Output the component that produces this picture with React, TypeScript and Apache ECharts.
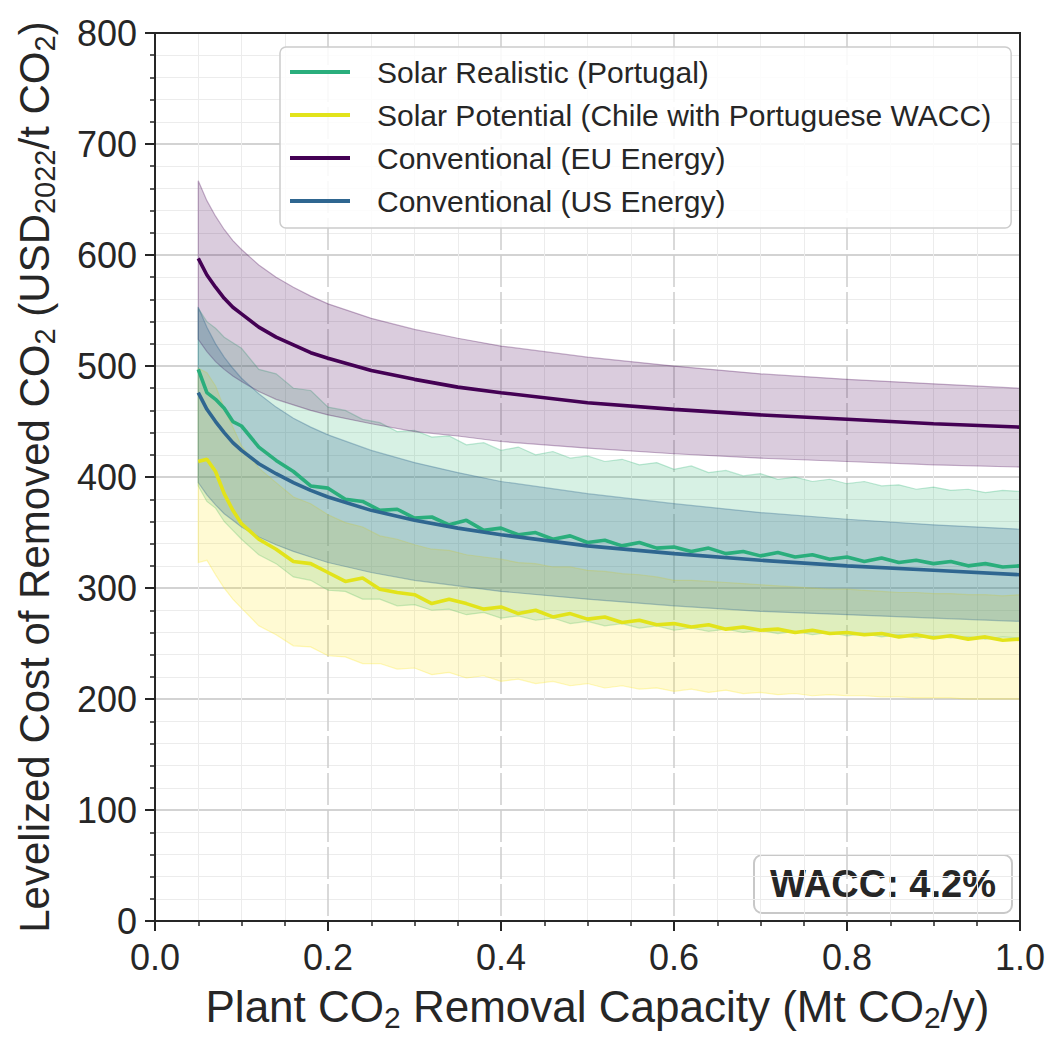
import React, { useEffect, useRef } from "react";
import * as echarts from "echarts";

// ---------- data ----------
const X_CONV = [0.05, 0.06, 0.07, 0.08, 0.09, 0.10, 0.12, 0.14, 0.16, 0.18, 0.20, 0.25, 0.30, 0.35, 0.40, 0.50, 0.60, 0.70, 0.80, 0.90, 1.00];
const EU_MEAN = [597, 582, 571, 561, 553, 547, 535, 526, 519, 512, 507, 496, 488, 481, 476, 467, 461, 456, 452, 448, 445];
const EU_UPPER = [667, 649, 635, 623, 613, 605, 591, 580, 571, 563, 556, 543, 533, 525, 518, 508, 500, 493, 488, 484, 480];
const EU_LOWER = [524, 513, 504, 497, 491, 486, 477, 470, 465, 460, 456, 448, 441, 437, 432, 426, 421, 417, 414, 411, 409];
const US_MEAN = [476, 461, 450, 440, 431, 424, 412, 403, 395, 388, 382, 370, 361, 354, 348, 338, 331, 325, 320, 316, 312];
const US_UPPER = [553, 535, 520, 508, 498, 489, 475, 463, 453, 445, 438, 424, 413, 404, 396, 385, 376, 368, 362, 357, 353];
const US_LOWER = [395, 384, 375, 367, 361, 355, 346, 339, 333, 328, 323, 314, 307, 302, 297, 290, 284, 279, 276, 273, 270];

const X_SOLAR = [0.05, 0.06, 0.07, 0.08, 0.09, 0.10, 0.12, 0.14, 0.16, 0.18, 0.20, 0.22, 0.24, 0.26, 0.28, 0.30, 0.32, 0.34, 0.36, 0.38, 0.40, 0.42, 0.44, 0.46, 0.48, 0.50, 0.52, 0.54, 0.56, 0.58, 0.60, 0.62, 0.64, 0.66, 0.68, 0.70, 0.72, 0.74, 0.76, 0.78, 0.80, 0.82, 0.84, 0.86, 0.88, 0.90, 0.92, 0.94, 0.96, 0.98, 1.00];
const SR_MEAN = [497, 476, 470, 462, 450, 446, 427, 415, 405, 392, 390, 380, 378, 370, 371, 363, 364, 357, 361, 352, 354, 348, 350, 344, 347, 341, 343, 338, 341, 336, 337, 333, 336, 331, 333, 329, 332, 328, 330, 326, 328, 324, 327, 323, 325, 322, 324, 320, 322, 319, 320];
const SR_UPPER = [552, 540, 534, 526, 521, 516, 497, 493, 480, 478, 463, 460, 452, 449, 441, 442, 436, 437, 429, 431, 424, 427, 420, 423, 417, 419, 414, 416, 411, 413, 407, 410, 404, 406, 401, 403, 398, 400, 396, 398, 394, 396, 392, 393, 389, 391, 388, 389, 386, 388, 387];
const SR_LOWER = [392, 378, 372, 360, 352, 344, 330, 322, 310, 307, 298, 297, 290, 290, 284, 285, 280, 281, 276, 278, 273, 275, 271, 273, 268, 270, 266, 268, 264, 266, 262, 264, 261, 263, 260, 262, 259, 261, 258, 260, 257, 259, 256, 258, 255, 257, 255, 256, 254, 256, 255];
const SP_MEAN = [414, 416, 405, 385, 370, 358, 344, 335, 324, 322, 314, 306, 309, 299, 296, 294, 286, 290, 286, 281, 283, 277, 280, 274, 277, 272, 274, 269, 271, 267, 268, 265, 267, 263, 265, 262, 263, 260, 262, 259, 260, 258, 259, 256, 258, 255, 257, 254, 256, 253, 254];
const SP_UPPER = [498, 494, 482, 462, 445, 428, 408, 395, 382, 376, 366, 359, 355, 347, 344, 339, 335, 334, 330, 328, 326, 323, 322, 319, 319, 316, 315, 313, 312, 310, 307, 307, 306, 305, 304, 303, 302, 301, 300, 299, 299, 298, 297, 296, 296, 295, 295, 294, 294, 293, 294];
const SP_LOWER = [323, 325, 312, 300, 290, 282, 266, 258, 248, 247, 239, 238, 232, 232, 227, 228, 222, 224, 219, 221, 216, 218, 214, 216, 212, 214, 210, 212, 209, 210, 207, 209, 206, 208, 205, 206, 204, 205, 203, 204, 203, 203, 202, 202, 201, 201, 201, 200, 200, 200, 200];

const SERIES_NAMES = [
  "Solar Realistic (Portugal)",
  "Solar Potential (Chile with Portuguese WACC)",
  "Conventional (EU Energy)",
  "Conventional (US Energy)",
];
const X_TICKS = { min: 0, max: 1, interval: 0.2 };
const Y_TICKS = { min: 0, max: 800, interval: 100 };
const ANNOTATION = "WACC: 4.2%";

// ---------- styles ----------
const FONT = "'Liberation Sans', Arial, Helvetica, sans-serif";
const TXT = "#262626";
const C_SR = "#2aae7c";
const C_SP = "#e2e31a";
const C_EU = "#440154";
const C_US = "#2f6690";

const rgba = (hex: string, a: number) => {
  const n = parseInt(hex.slice(1), 16);
  return `rgba(${(n >> 16) & 255},${(n >> 8) & 255},${n & 255},${a})`;
};

function band(name: string, xs: number[], lo: number[], hi: number[], color: string, alpha: number) {
  return {
    type: "custom",
    name: name + " range",
    silent: true,
    z: 1,
    data: [0],
    renderItem: (_p: any, api: any) => {
      const pts: number[][] = [];
      for (let i = 0; i < xs.length; i++) pts.push(api.coord([xs[i], hi[i]]));
      for (let i = xs.length - 1; i >= 0; i--) pts.push(api.coord([xs[i], lo[i]]));
      return {
        type: "polygon",
        shape: { points: pts },
        style: { fill: rgba(color, alpha), stroke: rgba(color, alpha + 0.1), lineWidth: 1.2 },
      };
    },
  };
}

function line(name: string, xs: number[], ys: number[], color: string) {
  return {
    type: "line",
    name,
    z: 3,
    showSymbol: false,
    symbol: "none",
    color,
    lineStyle: { color, width: 3.6 },
    data: xs.map((x, i) => [x, ys[i]]),
  };
}

export default function App() {
  const ref = useRef<HTMLDivElement>(null);
  useEffect(() => {
    if (!ref.current) return;
    const chart = echarts.init(ref.current, undefined, { renderer: "svg" });
    const option: any = {
      animation: false,
      backgroundColor: "#ffffff",
      grid: {
        left: 155, right: 32, top: 33, bottom: 115,
        show: true, borderColor: TXT, borderWidth: 2, backgroundColor: "transparent", z: 5,
      },
      xAxis: {
        type: "value",
        min: X_TICKS.min, max: X_TICKS.max, interval: X_TICKS.interval,
        axisLine: { show: true, onZero: false, lineStyle: { color: TXT, width: 2 } },
        axisTick: { show: true, length: 10, lineStyle: { color: TXT, width: 2 } },
        minorTick: { show: true, splitNumber: 4, length: 5, lineStyle: { color: TXT, width: 1.5 } },
        splitLine: {
          show: true, showMinLine: false, showMaxLine: false,
          lineStyle: { color: "#cdcdcd", width: 1.5, type: [32, 5] },
        },
        minorSplitLine: { show: true, lineStyle: { color: "#ececec", width: 1 } },
        axisLabel: {
          fontSize: 36, fontFamily: FONT, color: TXT, margin: 18,
          formatter: (v: number) => v.toFixed(1),
        },
        name: "Plant CO{sub|2} Removal Capacity (Mt CO{sub|2}/y)",
        nameLocation: "middle",
        nameGap: 58,
        nameTextStyle: {
          fontSize: 44, fontFamily: FONT, color: TXT, lineHeight: 52, padding: [0, 0, 0, 20],
          rich: { sub: { fontSize: 30, fontFamily: FONT, color: TXT, lineHeight: 22, verticalAlign: "bottom" } },
        },
      },
      yAxis: {
        type: "value",
        min: Y_TICKS.min, max: Y_TICKS.max, interval: Y_TICKS.interval,
        axisLine: { show: true, onZero: false, lineStyle: { color: TXT, width: 2 } },
        axisTick: { show: true, length: 10, lineStyle: { color: TXT, width: 2 } },
        minorTick: { show: true, splitNumber: 5, length: 5, lineStyle: { color: TXT, width: 1.5 } },
        splitLine: {
          show: true, showMinLine: false, showMaxLine: false,
          lineStyle: { color: "#c4c4c4", width: 1.5 },
        },
        minorSplitLine: { show: true, lineStyle: { color: "#ececec", width: 1 } },
        axisLabel: { fontSize: 36, fontFamily: FONT, color: TXT, margin: 18 },
        name: "Levelized Cost of Removed CO{sub|2} (USD{sub|2022}/t CO{sub|2})",
        nameLocation: "middle",
        nameGap: 96,
        nameRotate: 90,
        nameTextStyle: {
          fontSize: 42, fontFamily: FONT, color: TXT, lineHeight: 50,
          rich: { sub: { fontSize: 29, fontFamily: FONT, color: TXT, lineHeight: 22, verticalAlign: "bottom" } },
        },
      },
      legend: {
        data: SERIES_NAMES,
        orient: "vertical",
        left: 280,
        top: 47,
        icon: "rect",
        itemWidth: 60,
        itemHeight: 4,
        itemGap: 9,
        padding: [8, 20, 10, 10],
        backgroundColor: "rgba(255,255,255,0.85)",
        borderColor: "#cccccc",
        borderWidth: 1.5,
        borderRadius: 6,
        textStyle: { fontSize: 30, fontFamily: FONT, color: TXT, lineHeight: 34, padding: [0, 0, 0, 22] },
      },
      graphic: [
        {
          type: "group",
          right: 39,
          bottom: 123,
          children: [
            {
              type: "rect",
              shape: { x: 0, y: 0, width: 258, height: 58, r: 8 },
              style: { fill: "rgba(255,255,255,0.85)", stroke: "#c8c8c8", lineWidth: 2 },
            },
            {
              type: "text",
              x: 129, y: 29,
              style: {
                text: ANNOTATION, fill: TXT, font: `bold 38px ${FONT}`,
                align: "center", verticalAlign: "middle",
              },
            },
          ],
        },
      ],
      series: [
        band(SERIES_NAMES[0], X_SOLAR, SR_LOWER, SR_UPPER, "#35b779", 0.2),
        band(SERIES_NAMES[1], X_SOLAR, SP_LOWER, SP_UPPER, "#fde725", 0.2),
        band(SERIES_NAMES[2], X_CONV, EU_LOWER, EU_UPPER, C_EU, 0.2),
        band(SERIES_NAMES[3], X_CONV, US_LOWER, US_UPPER, "#31688e", 0.25),
        line(SERIES_NAMES[0], X_SOLAR, SR_MEAN, C_SR),
        line(SERIES_NAMES[1], X_SOLAR, SP_MEAN, C_SP),
        line(SERIES_NAMES[2], X_CONV, EU_MEAN, C_EU),
        line(SERIES_NAMES[3], X_CONV, US_MEAN, C_US),
      ],
    };
    chart.setOption(option);
    return () => chart.dispose();
  }, []);
  return (
    <div
      ref={ref}
      style={{ position: "fixed", left: 0, top: 0, width: 1052, height: 1037, background: "#fff" }}
    />
  );
}
